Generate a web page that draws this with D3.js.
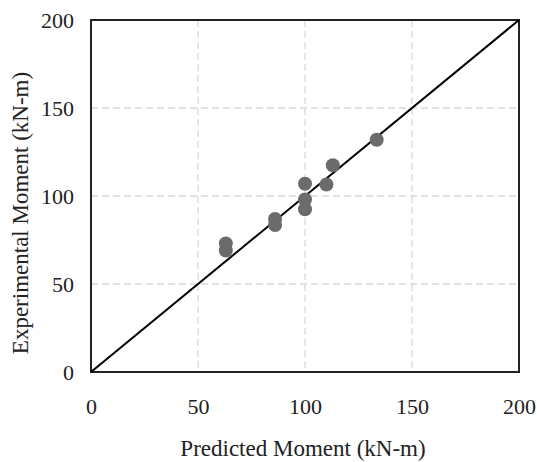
<!DOCTYPE html>
<html>
<head>
<meta charset="utf-8">
<script src="https://cdn.jsdelivr.net/npm/d3@7"></script>
<style>
  body { margin: 0; background: #fff; }
  text { font-family: "Liberation Serif", "Times New Roman", serif; fill: #222; }
</style>
</head>
<body>
<div id="chart"></div>
<script>
// data
var predicted    = [63, 63, 86, 86, 100, 100, 100, 110, 113, 133.5];
var experimental = [73, 69, 87, 83.5, 107, 98, 92.5, 106.5, 117.5, 132];
var tickValues = [0, 50, 100, 150, 200];
var xTitle = "Predicted Moment (kN-m)";
var yTitle = "Experimental Moment (kN-m)";

var W = 537, H = 462;
var margin = {top: 20, right: 18, bottom: 90, left: 91};
var width = W - margin.left - margin.right,
    height = H - margin.top - margin.bottom;

var svg = d3.select("#chart")
  .append("svg")
    .attr("width", W)
    .attr("height", H)
  .append("g")
    .attr("transform", "translate(" + margin.left + "," + margin.top + ")");

var x = d3.scaleLinear().domain([0, 200]).range([0, width]);
var y = d3.scaleLinear().domain([0, 200]).range([height, 0]);

// gridlines
svg.append("g")
  .selectAll("line")
  .data(tickValues.slice(1, -1))
  .enter().append("line")
    .attr("x1", function(d) { return x(d); })
    .attr("x2", function(d) { return x(d); })
    .attr("y1", 0).attr("y2", height)
    .attr("stroke", "#d9d9d9").attr("stroke-width", 1.3)
    .attr("stroke-dasharray", "7,4");
svg.append("g")
  .selectAll("line")
  .data(tickValues.slice(1, -1))
  .enter().append("line")
    .attr("y1", function(d) { return y(d); })
    .attr("y2", function(d) { return y(d); })
    .attr("x1", 0).attr("x2", width)
    .attr("stroke", "#d9d9d9").attr("stroke-width", 1.3)
    .attr("stroke-dasharray", "7,4");

// axes (labels only)
var xAxis = svg.append("g")
  .attr("transform", "translate(0," + height + ")")
  .call(d3.axisBottom(x).tickValues(tickValues).tickSize(0).tickPadding(26));
var yAxis = svg.append("g")
  .call(d3.axisLeft(y).tickValues(tickValues).tickSize(0).tickPadding(17));
[xAxis, yAxis].forEach(function(a) {
  a.attr("font-family", "Liberation Serif, serif").attr("font-size", 22);
  a.select(".domain").remove();
  a.selectAll("text")
    .style("font-family", "'Liberation Serif', serif")
    .style("font-size", "22px")
    .attr("fill", "#222");
});
yAxis.selectAll("text").attr("dy", "0.35em");

// frame
svg.append("rect")
  .attr("x", 0).attr("y", 0)
  .attr("width", width).attr("height", height)
  .attr("fill", "none")
  .attr("stroke", "#222").attr("stroke-width", 2);

// 1:1 line
svg.append("line")
  .attr("x1", x(0)).attr("y1", y(0))
  .attr("x2", x(200)).attr("y2", y(200))
  .attr("stroke", "#000").attr("stroke-width", 2);

// points
svg.append("g")
  .selectAll("circle")
  .data(predicted)
  .enter().append("circle")
    .attr("cx", function(d) { return x(d); })
    .attr("cy", function(d, i) { return y(experimental[i]); })
    .attr("r", 7)
    .attr("fill", "#6b6b6b");

// titles
svg.append("text")
  .attr("x", width / 2 - 2)
  .attr("y", height + 84)
  .attr("text-anchor", "middle")
  .style("font-size", "23px")
  .text(xTitle);
svg.append("text")
  .attr("transform", "rotate(-90)")
  .attr("x", -193)
  .attr("y", -63)
  .attr("text-anchor", "middle")
  .style("font-size", "23px")
  .text(yTitle);
</script>
</body>
</html>
